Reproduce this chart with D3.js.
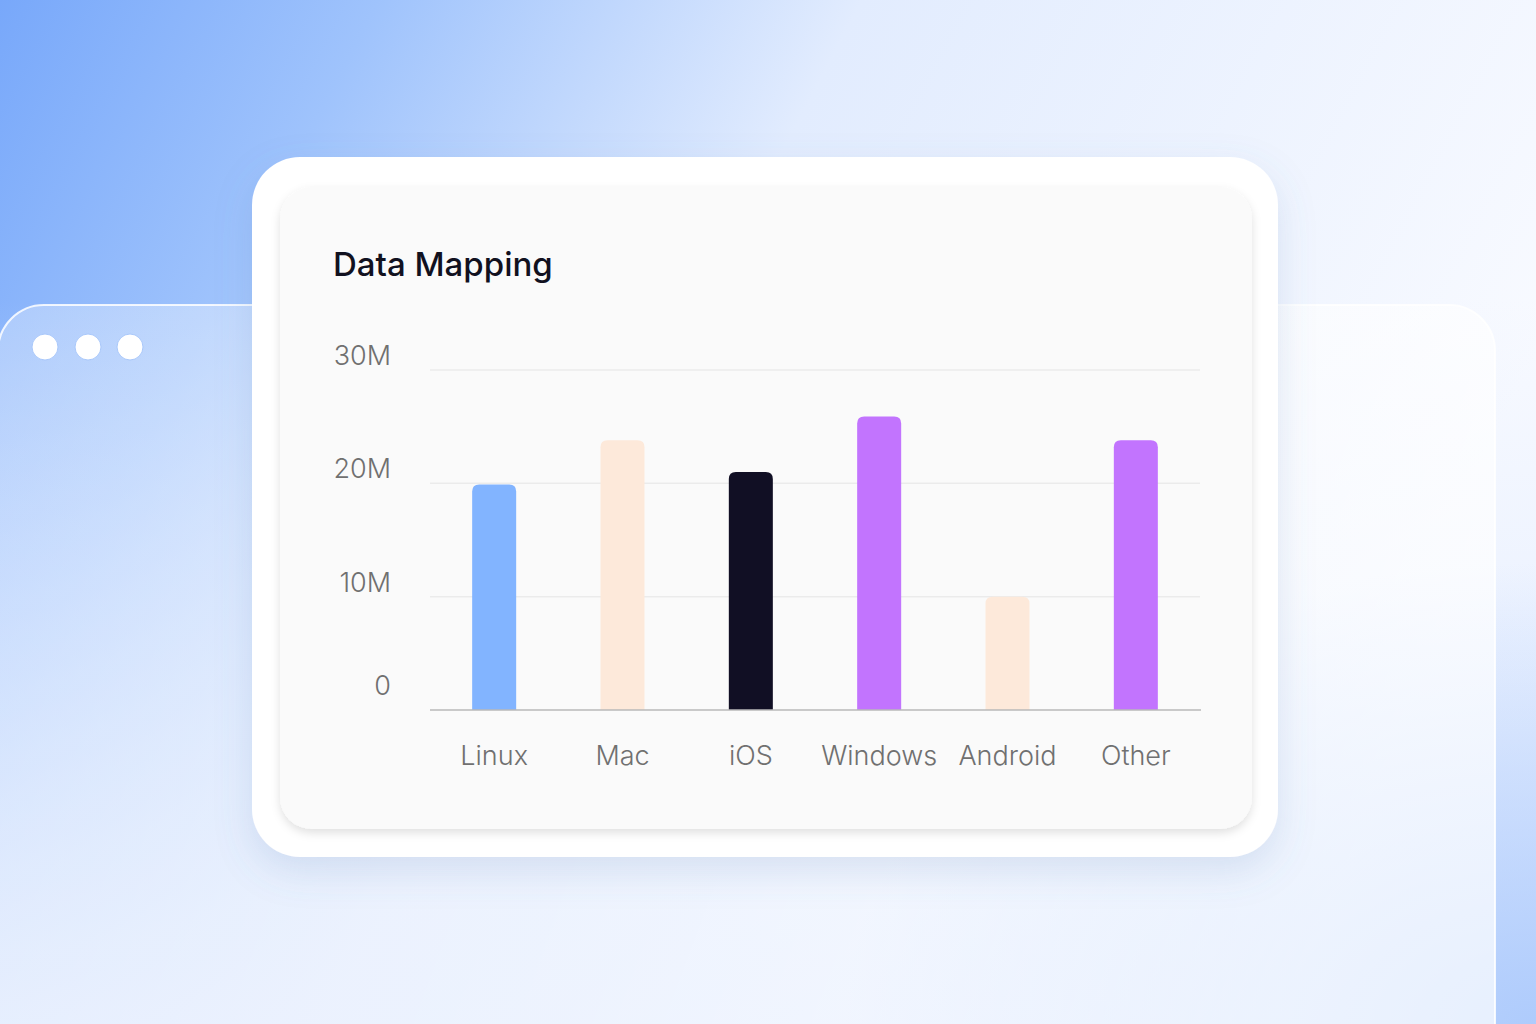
<!DOCTYPE html>
<html>
<head>
<meta charset="utf-8">
<script src="https://cdn.jsdelivr.net/npm/d3@7"></script>
<style>
  html, body { margin: 0; padding: 0; background: #eef3fe; }
  svg { display: block; }
</style>
</head>
<body>
<script>
// ---- data ----
const categories = ["Linux", "Mac", "iOS", "Windows", "Android", "Other"];
const values = [19.9, 23.8, 21.0, 25.9, 10.0, 23.8]; // millions
const barColors = ["#82b4ff", "#fde9da", "#110f24", "#c274fe", "#fde9da", "#c274fe"];
const yTicks = [0, 10, 20, 30];
const yTickLabels = ["0", "10M", "20M", "30M"];
const title = "Data Mapping";

const W = 1536, H = 1024;
const svg = d3.select("body").append("svg").attr("width", W).attr("height", H);
const defs = svg.append("defs");

// background gradients
const bgBase = defs.append("linearGradient").attr("id", "bgBase")
  .attr("x1", 0).attr("y1", 0).attr("x2", 1).attr("y2", 0.35);
bgBase.append("stop").attr("offset", 0).attr("stop-color", "#78a8fa");
bgBase.append("stop").attr("offset", 0.22).attr("stop-color", "#9fc3fc");
bgBase.append("stop").attr("offset", 0.5).attr("stop-color", "#e2ecfe");
bgBase.append("stop").attr("offset", 1).attr("stop-color", "#f8faff");

const bgBottom = defs.append("linearGradient").attr("id", "bgBottom")
  .attr("x1", 0).attr("y1", 0).attr("x2", 0).attr("y2", 1);
bgBottom.append("stop").attr("offset", 0).attr("stop-color", "#dbe7fe").attr("stop-opacity", 0);
bgBottom.append("stop").attr("offset", 1).attr("stop-color", "#dde8fe").attr("stop-opacity", 0.9);

const brRad = defs.append("radialGradient").attr("id", "brRad")
  .attr("cx", 1).attr("cy", 1).attr("r", 0.45);
brRad.append("stop").attr("offset", 0).attr("stop-color", "#a9c8fc").attr("stop-opacity", 0.9);
brRad.append("stop").attr("offset", 1).attr("stop-color", "#a9c8fc").attr("stop-opacity", 0);

svg.append("rect").attr("width", W).attr("height", H).attr("fill", "url(#bgBase)");
svg.append("rect").attr("y", 300).attr("width", W).attr("height", H - 300).attr("fill", "url(#bgBottom)");
svg.append("rect").attr("width", W).attr("height", H).attr("fill", "url(#brRad)");

// back "window" panel
const panelGrad = defs.append("linearGradient").attr("id", "panelGrad")
  .attr("x1", 0).attr("y1", 0).attr("x2", 1).attr("y2", 0.2);
panelGrad.append("stop").attr("offset", 0).attr("stop-color", "#ffffff").attr("stop-opacity", 0.3);
panelGrad.append("stop").attr("offset", 0.5).attr("stop-color", "#ffffff").attr("stop-opacity", 0.45);
panelGrad.append("stop").attr("offset", 1).attr("stop-color", "#ffffff").attr("stop-opacity", 0.7);

svg.append("rect").attr("x", -2).attr("y", 305).attr("width", 1497).attr("height", 800)
  .attr("rx", 46).attr("fill", "url(#panelGrad)")
  .attr("stroke", "#ffffff").attr("stroke-opacity", 0.85).attr("stroke-width", 2);

svg.append("g").selectAll("circle").data([45, 88, 130]).join("circle")
  .attr("cx", d => d).attr("cy", 347).attr("r", 13)
  .attr("fill", "#ffffff").attr("stroke", "#a9c8fb").attr("stroke-width", 1);

// card shadows
const f1 = defs.append("filter").attr("id", "outerShadow")
  .attr("x", -0.1).attr("y", -0.1).attr("width", 1.2).attr("height", 1.3);
f1.append("feDropShadow").attr("dx", 0).attr("dy", 14).attr("stdDeviation", 18)
  .attr("flood-color", "#5f7fb8").attr("flood-opacity", 0.18);

const f2 = defs.append("filter").attr("id", "innerShadow")
  .attr("x", -0.1).attr("y", -0.1).attr("width", 1.2).attr("height", 1.3);
f2.append("feDropShadow").attr("dx", 0).attr("dy", 4).attr("stdDeviation", 5)
  .attr("flood-color", "#000000").attr("flood-opacity", 0.12);

svg.append("rect").attr("x", 252).attr("y", 157).attr("width", 1026).attr("height", 700)
  .attr("rx", 48).attr("fill", "#ffffff").attr("filter", "url(#outerShadow)");
svg.append("rect").attr("x", 280).attr("y", 187).attr("width", 972).attr("height", 642)
  .attr("rx", 32).attr("fill", "#fafafa").attr("filter", "url(#innerShadow)");

// title
svg.append("text").attr("x", 333).attr("y", 276)
  .attr("font-family", "Inter, 'Open Sans', sans-serif").attr("font-weight", 500)
  .attr("font-size", 33).attr("fill", "#11111f").text(title);

// scales
const x = d3.scaleBand().domain(categories).range([430, 1200])
  .paddingInner(0.657).paddingOuter(0.3285);
const y = d3.scaleLinear().domain([0, 30]).range([710, 370]);

// grid lines
svg.append("g").selectAll("line").data(yTicks.filter(t => t > 0)).join("line")
  .attr("x1", 430).attr("x2", 1200)
  .attr("y1", d => y(d)).attr("y2", d => y(d))
  .attr("stroke", "#ebebeb").attr("stroke-width", 1.5);

// y tick labels
svg.append("g").selectAll("text").data(yTicks).join("text")
  .attr("x", 391).attr("y", d => y(d) - (d === 0 ? 15 : 5))
  .attr("text-anchor", "end")
  .attr("font-family", "Inter, sans-serif").attr("font-weight", 300)
  .attr("font-size", 27).attr("fill", "#707070")
  .text((d, i) => yTickLabels[i]);

// bars with rounded tops
const r = 7;
function barPath(x0, w, yTop, yBase) {
  const rr = Math.min(r, (yBase - yTop));
  return `M${x0},${yBase}V${yTop + rr}Q${x0},${yTop} ${x0 + rr},${yTop}H${x0 + w - rr}Q${x0 + w},${yTop} ${x0 + w},${yTop + rr}V${yBase}Z`;
}
svg.append("g").selectAll("path").data(categories).join("path")
  .attr("d", (c, i) => barPath(x(c), x.bandwidth(), y(values[i]), y(0)))
  .attr("fill", (c, i) => barColors[i]);

// baseline
svg.append("line").attr("x1", 430).attr("x2", 1201).attr("y1", y(0)).attr("y2", y(0))
  .attr("stroke", "#b8b8b8").attr("stroke-width", 1.5);

// category labels
svg.append("g").selectAll("text").data(categories).join("text")
  .attr("x", c => x(c) + x.bandwidth() / 2).attr("y", 765)
  .attr("text-anchor", "middle")
  .attr("font-family", "Inter, sans-serif").attr("font-weight", 300)
  .attr("font-size", 27).attr("fill", "#707070")
  .text(c => c);
</script>
</body>
</html>
